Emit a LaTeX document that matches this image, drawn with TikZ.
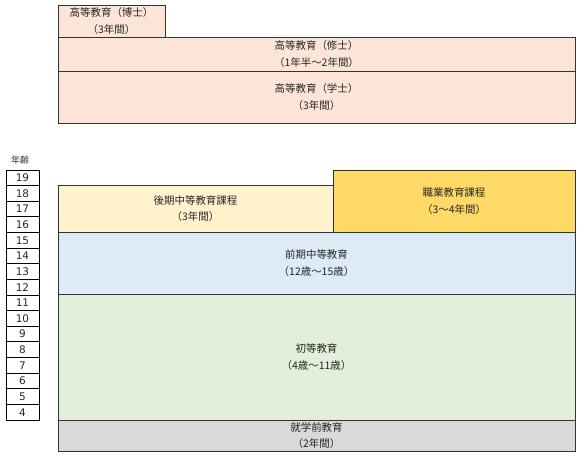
\documentclass[tikz,border=0pt]{standalone}
\usepackage{fontspec}
\setmainfont{Noto Sans CJK JP}
\newfontfamily\numfont{DejaVu Sans}
\definecolor{peach}{HTML}{FCE4D6}
\definecolor{lightyellow}{HTML}{FFF2CC}
\definecolor{gold}{HTML}{FFD966}
\definecolor{lightblue}{HTML}{DDEBF7}
\definecolor{lightgreen}{HTML}{E2EFDA}
\definecolor{lightgray}{HTML}{D9D9D9}
\definecolor{edge}{HTML}{333333}
\tikzset{
  stage/.style={draw=edge, line width=0.8bp, anchor=north west, inner sep=0pt, outer sep=0pt,
    align=center, font=\fontsize{10.5}{16.5}\selectfont, text=black!85},
  agebox/.style={draw=black, line width=0.8bp, anchor=north west, inner sep=0pt, outer sep=0pt,
    minimum width=33bp, minimum height=15.625bp, font=\numfont\fontsize{10.5}{11}\selectfont, text=black!85},
}
\begin{document}
\begin{tikzpicture}[x=1bp,y=-1bp]
\useasboundingbox (0,0) rectangle (582,458);
% higher education
\node[stage, fill=peach, minimum width=107bp, minimum height=32bp] (phd) at (58,5) {高等教育（博士）\\（3年間）};
\node[stage, fill=peach, minimum width=517bp, minimum height=34bp] (master) at (58,37) {高等教育（修士）\\（1年半〜2年間）};
\node[stage, fill=peach, minimum width=517bp, minimum height=52bp] (bachelor) at (58,71) {高等教育（学士）\\（3年間）};
% school education
\node[stage, fill=lightyellow, minimum width=275bp, minimum height=47bp] (upper) at (58,185) {後期中等教育課程\\（3年間）};
\node[stage, fill=gold, minimum width=242bp, minimum height=62bp] (voc) at (333,170) {職業教育課程\\（3〜4年間）};
\node[stage, fill=lightblue, minimum width=517bp, minimum height=62bp] (lower) at (58,232) {前期中等教育\\（12歳〜15歳）};
\node[stage, fill=lightgreen, minimum width=517bp, minimum height=126bp] (primary) at (58,294) {初等教育\\（4歳〜11歳）};
\node[stage, fill=lightgray, minimum width=517bp, minimum height=31bp] (pre) at (58,420) {就学前教育\\（2年間）};
% ages
\node[font=\fontsize{9}{10}\selectfont, anchor=south, text=black!85] (agelabel) at (20,168) {年齢};
\foreach \a [count=\i from 0] in {19,18,...,4} {
  \node[agebox] (age\a) at (6,170+15.625*\i) {\a};
}
\end{tikzpicture}
\end{document}
